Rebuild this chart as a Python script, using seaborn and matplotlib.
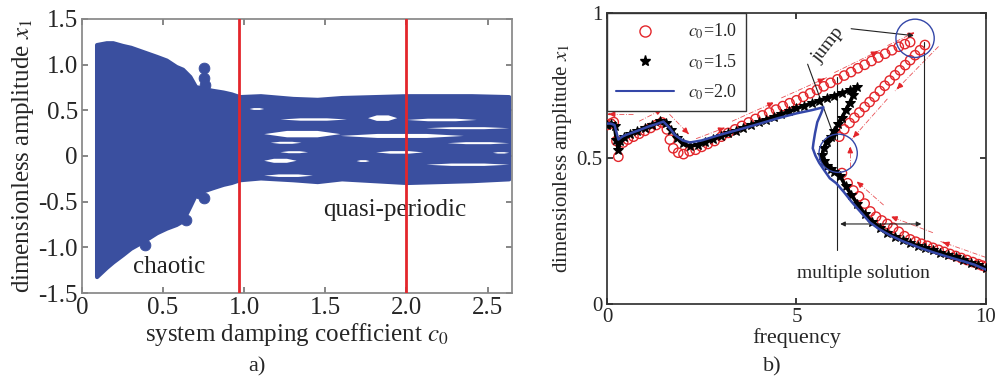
"""Bifurcation diagram (a) and frequency-response curves (b)."""

import matplotlib

matplotlib.use("Agg")

import matplotlib.pyplot as plt
from matplotlib.lines import Line2D
import seaborn as sns

# ---------------- panel a) : bifurcation diagram vs damping c0 ----------------
env_c0 = [0.09, 0.15, 0.19, 0.25, 0.30, 0.38, 0.46, 0.52, 0.58, 0.62, 0.665, 0.70,
          0.75, 0.80, 0.87, 0.92, 0.97, 1.10, 1.30, 1.45, 1.60, 1.80, 2.00, 2.20,
          2.40, 2.63]
env_top = [1.22, 1.24, 1.24, 1.21, 1.19, 1.14, 1.09, 1.05, 0.98, 0.95, 0.87, 0.76,
           0.74, 0.72, 0.70, 0.68, 0.65, 0.66, 0.63, 0.62, 0.64, 0.65, 0.66, 0.66,
           0.66, 0.65]
env_bot = [-1.32, -1.22, -1.16, -1.08, -1.01, -0.93, -0.84, -0.79, -0.75, -0.71,
           -0.55, -0.42, -0.38, -0.35, -0.31, -0.29, -0.26, -0.24, -0.26, -0.28,
           -0.25, -0.27, -0.29, -0.28, -0.27, -0.25]
# isolated attractor points at the edge of the chaotic zone
blob_c0 = [0.75, 0.75, 0.76, 0.39, 0.64, 0.75, 0.72]
blob_x1 = [0.96, 0.85, 0.78, -0.97, -0.70, -0.46, -0.40]
# white gaps between the quasi-periodic bands: start, end, centre, half width
gap_start = [1.03, 1.22, 1.76, 2.00, 2.12, 1.12, 1.59, 2.25, 1.16, 1.22, 1.81,
             2.53, 1.12, 2.12, 1.12, 1.69]
gap_end = [1.12, 1.63, 1.94, 2.43, 2.63, 1.59, 2.35, 2.63, 1.35, 1.39, 2.10,
           2.63, 1.32, 2.63, 1.42, 1.77]
gap_mid = [0.52, 0.405, 0.42, 0.40, 0.31, 0.245, 0.225, 0.146, 0.15, 0.047,
           0.045, 0.04, -0.047, -0.09, -0.21, -0.05]
gap_half = [0.01, 0.013, 0.03, 0.014, 0.011, 0.035, 0.022, 0.011, 0.011, 0.011,
            0.014, 0.008, 0.022, 0.013, 0.014, 0.01]
boundary_c0 = [0.97, 2.0]
a_xticks = [0, 0.5, 1.0, 1.5, 2.0, 2.5]
a_xlabels = ["0", "0.5", "1.0", "1.5", "2.0", "2.5"]
a_yticks = [-1.5, -1.0, -0.5, 0, 0.5, 1.0, 1.5]
a_ylabels = ["-1.5", "-1.0", "-0.5", "0", "0.5", "1.0", "1.5"]

# ---------------- panel b) : amplitude vs frequency ----------------
red_f = [0.0, 0.1, 0.18, 0.25, 0.3, 0.43, 0.55, 0.7, 0.85, 1.0, 1.15, 1.3, 1.45,
         1.58, 1.66, 1.75, 1.88, 2.02, 2.18, 2.34, 2.5,
         2.66, 2.84, 3.02, 3.2, 3.38, 3.56, 3.74, 3.92, 4.1, 4.28, 4.46, 4.64,
         4.82, 5.0, 5.18, 5.36, 5.54, 5.72, 5.9, 6.08, 6.26, 6.44, 6.62, 6.8,
         6.98, 7.16, 7.34, 7.52, 7.7, 7.86, 8.0,
         8.39, 8.26, 8.13, 8.0, 7.87, 7.73, 7.6, 7.46, 7.33, 7.2, 7.06, 6.93,
         6.8, 6.66, 6.53, 6.4, 6.26, 6.13,
         6.2, 6.35, 6.5, 6.65, 6.8, 6.95, 7.1, 7.25, 7.4, 7.55, 7.7, 7.85, 8.0,
         8.15, 8.3, 8.45, 8.6, 8.75, 8.9, 9.05, 9.2, 9.35, 9.5, 9.65, 9.8, 9.9,
         10.0]
red_a = [0.615, 0.62, 0.625, 0.56, 0.506, 0.555, 0.565, 0.575, 0.585, 0.595,
         0.605, 0.615, 0.624, 0.60, 0.565, 0.535, 0.52, 0.515, 0.525, 0.53, 0.54,
         0.55, 0.56, 0.575, 0.588, 0.60, 0.612, 0.624, 0.636, 0.648, 0.658,
         0.668, 0.68, 0.69, 0.70, 0.712, 0.724, 0.736, 0.748, 0.76, 0.772, 0.785,
         0.797, 0.81, 0.822, 0.835, 0.847, 0.86, 0.872, 0.884, 0.893, 0.90,
         0.89, 0.872, 0.855, 0.838, 0.821, 0.803, 0.786, 0.768, 0.75, 0.732,
         0.712, 0.694, 0.677, 0.658, 0.64, 0.622, 0.60, 0.575,
         0.45, 0.415, 0.39, 0.37, 0.345, 0.318, 0.30, 0.287, 0.275, 0.262, 0.248,
         0.233, 0.222, 0.214, 0.207, 0.20, 0.193, 0.186, 0.179, 0.172, 0.165,
         0.158, 0.151, 0.144, 0.137, 0.132, 0.127]

black_f = [0.0, 0.1, 0.2, 0.25, 0.3, 0.35, 0.45, 0.6, 0.8, 1.0, 1.2, 1.4, 1.55,
           1.7, 1.85, 2.0, 2.2, 2.4, 2.6, 2.8, 3.0, 3.2, 3.4, 3.6, 3.8, 4.0, 4.2,
           4.4, 4.6, 4.8, 5.0, 5.2, 5.4, 5.6, 5.8, 6.0, 6.2, 6.4, 6.6,
           6.5, 6.4, 6.3, 6.2, 6.1, 6.0, 5.9, 5.8, 5.72, 5.68,
           5.72, 5.8, 5.9, 6.0, 6.15, 6.3, 6.45, 6.6, 6.8, 7.0, 7.2, 7.4, 7.6,
           7.8, 8.0, 8.2, 8.4, 8.6, 8.8, 9.0, 9.2, 9.4, 9.6, 9.8, 10.0]
black_a = [0.615, 0.618, 0.61, 0.565, 0.528, 0.56, 0.575, 0.585, 0.595, 0.605,
           0.615, 0.628, 0.622, 0.598, 0.572, 0.552, 0.542, 0.548, 0.556, 0.566,
           0.578, 0.587, 0.596, 0.606, 0.615, 0.625, 0.634, 0.643, 0.652, 0.662,
           0.672, 0.681, 0.690, 0.699, 0.708, 0.716, 0.725, 0.734, 0.744,
           0.718, 0.690, 0.665, 0.640, 0.617, 0.596, 0.575, 0.556, 0.535, 0.512,
           0.49, 0.475, 0.465, 0.455, 0.44, 0.405, 0.375, 0.345, 0.31, 0.283,
           0.262, 0.245, 0.231, 0.219, 0.209, 0.20, 0.192, 0.184, 0.176, 0.168,
           0.16, 0.151, 0.142, 0.133, 0.124]

blue_f = [0.0, 0.1, 0.2, 0.3, 0.4, 0.52, 0.8, 1.1, 1.3, 1.49, 1.65, 1.8, 2.0,
          2.19, 2.5, 3.0, 3.5, 4.04, 4.5, 5.0, 5.4, 5.71, 5.65, 5.55, 5.49, 5.45,
          5.43, 5.5, 5.6, 5.72, 5.88, 6.05, 6.25, 6.45, 6.7, 6.94, 7.2, 7.5, 7.8,
          8.26, 8.6, 9.0, 9.4, 9.7, 10.0]
blue_a = [0.62, 0.62, 0.615, 0.565, 0.575, 0.582, 0.595, 0.61, 0.618, 0.627,
          0.605, 0.58, 0.562, 0.555, 0.562, 0.582, 0.60, 0.62, 0.638, 0.655,
          0.666, 0.676, 0.655, 0.625, 0.587, 0.555, 0.535, 0.51, 0.485, 0.462,
          0.432, 0.415, 0.385, 0.352, 0.315, 0.28, 0.256, 0.234, 0.216, 0.193,
          0.178, 0.162, 0.147, 0.135, 0.118]

# red dash-dot direction arrows: (from f, from a, to f, to a)
sweep_arrows = [
    (0.7, 0.652, 0.05, 0.652), (0.85, 0.628, 1.45, 0.668), (1.65, 0.652, 2.15, 0.585),
    (2.35, 0.568, 3.1, 0.605), (3.3, 0.628, 4.4, 0.692), (4.6, 0.708, 5.8, 0.778),
    (6.0, 0.795, 7.2, 0.872), (7.4, 0.888, 8.1, 0.932), (8.75, 0.885, 7.6, 0.732),
    (7.4, 0.705, 6.45, 0.565), (6.42, 0.47, 6.42, 0.54), (7.3, 0.34, 6.6, 0.42),
    (8.6, 0.245, 7.5, 0.3), (10.0, 0.16, 8.8, 0.215),
]
jump_circles_f = [8.13, 6.10]
jump_circles_a = [0.913, 0.518]
region_f = [6.08, 8.37]
region_top = [0.78, 0.90]
region_bottom = [0.186, 0.19]

RED = "#e3262b"
BLUE = "#3447a8"
BLOB = "#3a4f9f"

sns.set_theme(style="ticks")
plt.rcParams.update(
    {
        "font.family": ["Liberation Serif", "DejaVu Serif"],
        "mathtext.fontset": "stix",
        "axes.unicode_minus": False,
        "xtick.direction": "in",
        "ytick.direction": "in",
        "xtick.top": True,
        "ytick.right": True,
    }
)

fig = plt.figure(figsize=(9.96, 3.79), dpi=100)
ax_a = fig.add_axes([0.0823, 0.2269, 0.4317, 0.7230])
ax_b = fig.add_axes([0.6094, 0.1979, 0.3805, 0.7678])

# ---- a) ----
ax_a.fill_between(env_c0, env_bot, env_top, color=BLOB, lw=3, edgecolor=BLOB, zorder=2)
for x0, x1, ym, hw in zip(gap_start, gap_end, gap_mid, gap_half):
    w = x1 - x0
    xs = [x0, x0 + 0.3 * w, x1 - 0.3 * w, x1]
    ax_a.fill_between(xs, [ym, ym - hw, ym - hw, ym], [ym, ym + hw, ym + hw, ym],
                      color="white", lw=0, zorder=3)
sns.scatterplot(x=blob_c0, y=blob_x1, s=60, color=BLOB, edgecolor=BLOB, ax=ax_a, zorder=2)
for c in boundary_c0:
    ax_a.axvline(c, color=RED, lw=2, zorder=4)
ax_a.set_xlim(0, 2.65)
ax_a.set_ylim(-1.5, 1.5)
ax_a.set_xticks(a_xticks, a_xlabels)
ax_a.set_yticks(a_yticks, a_ylabels)
ax_a.tick_params(labelsize=18, length=4, color="#777777", pad=3)
for sp in ax_a.spines.values():
    sp.set_color("#888888")
ax_a.set_xlabel("system damping coefficient $c_0$", fontsize=18, labelpad=1)
ax_a.set_ylabel("dimensionless amplitude $x_1$", fontsize=18, labelpad=2)
ax_a.text(0.535, -1.21, "chaotic", fontsize=18, ha="center", va="center", color="#222222")
ax_a.text(1.93, -0.59, "quasi-periodic", fontsize=18, ha="center", va="center", color="#222222")

# ---- b) ----
for f0, a0, f1, a1 in sweep_arrows:
    ax_b.plot([f0, f1], [a0, a1], color=RED, lw=0.6, ls=(0, (6, 2, 1, 2)), alpha=0.8, zorder=1)
    ax_b.annotate("", xy=(f1, a1), xytext=(f1 + 0.12 * (f0 - f1), a1 + 0.12 * (a0 - a1)),
                  arrowprops=dict(arrowstyle="-|>", color=RED, lw=1.2, mutation_scale=7),
                  zorder=1)
sns.scatterplot(x=red_f, y=red_a, marker="o", s=45, facecolor="none", edgecolor=RED,
                linewidth=1.0, ax=ax_b, zorder=3)
sns.lineplot(x=black_f, y=black_a, sort=False, estimator=None, color="black", lw=2.6,
             marker="*", markersize=7, markeredgecolor="black", ax=ax_b, zorder=4)
sns.lineplot(x=blue_f, y=blue_a, sort=False, estimator=None, color=BLUE, lw=1.8,
             ax=ax_b, zorder=5)
sns.scatterplot(x=jump_circles_f, y=jump_circles_a, marker="o", s=760, facecolor="none",
                edgecolor=BLUE, linewidth=1.0, ax=ax_b, zorder=6)
for f, top, bot in zip(region_f, region_top, region_bottom):
    ax_b.plot([f, f], [bot, top], color="#222222", lw=0.8, zorder=2)
ax_b.annotate("", xy=(region_f[0], 0.275), xytext=(region_f[1], 0.275),
              arrowprops=dict(arrowstyle="<|-|>", color="#222222", lw=0.8, mutation_scale=7))
ax_b.annotate("", xy=(8.17, 0.921), xytext=(6.37, 0.947),
              arrowprops=dict(arrowstyle="-|>", color="#222222", lw=0.8, mutation_scale=7))
ax_b.annotate("", xy=(6.06, 0.552), xytext=(5.27, 0.833),
              arrowprops=dict(arrowstyle="-|>", color="#222222", lw=0.8, mutation_scale=7))
ax_b.text(5.85, 0.89, "jump", fontsize=14, rotation=52, ha="center", va="center")
ax_b.text(6.77, 0.105, "multiple solution", fontsize=14, ha="center", va="center")

ax_b.set_xlim(0, 10)
ax_b.set_ylim(0, 1)
ax_b.set_xticks([0, 5, 10], ["0", "5", "10"])
ax_b.set_yticks([0, 0.5, 1], ["0", "0.5", "1"])
ax_b.tick_params(labelsize=15, length=4, pad=3)
for sp in ax_b.spines.values():
    sp.set_color("#333333")
ax_b.set_xlabel("frequency", fontsize=16, labelpad=1)
ax_b.set_ylabel("dimensionless amplitude $x_1$", fontsize=15, labelpad=2)

handles = [
    Line2D([], [], marker="o", ls="none", mfc="none", mec=RED, ms=8),
    Line2D([], [], marker="*", ls="none", color="black", ms=8),
    Line2D([], [], color=BLUE, lw=1.5),
]
leg = ax_b.legend(handles, ["$c_0$=1.0", "$c_0$=1.5", "$c_0$=2.0"], loc="upper left",
                  fontsize=13, frameon=True, fancybox=False, handlelength=3.2,
                  borderaxespad=0.0, borderpad=0.5, labelspacing=0.6)
leg.get_frame().set_edgecolor("#333333")
leg.get_frame().set_linewidth(1.0)
leg.get_frame().set_alpha(1)

fig.text(0.258, 0.032, "a)", fontsize=16, ha="center", va="center")
fig.text(0.775, 0.032, "b)", fontsize=16, ha="center", va="center")

fig.savefig("out.png", dpi=100)
